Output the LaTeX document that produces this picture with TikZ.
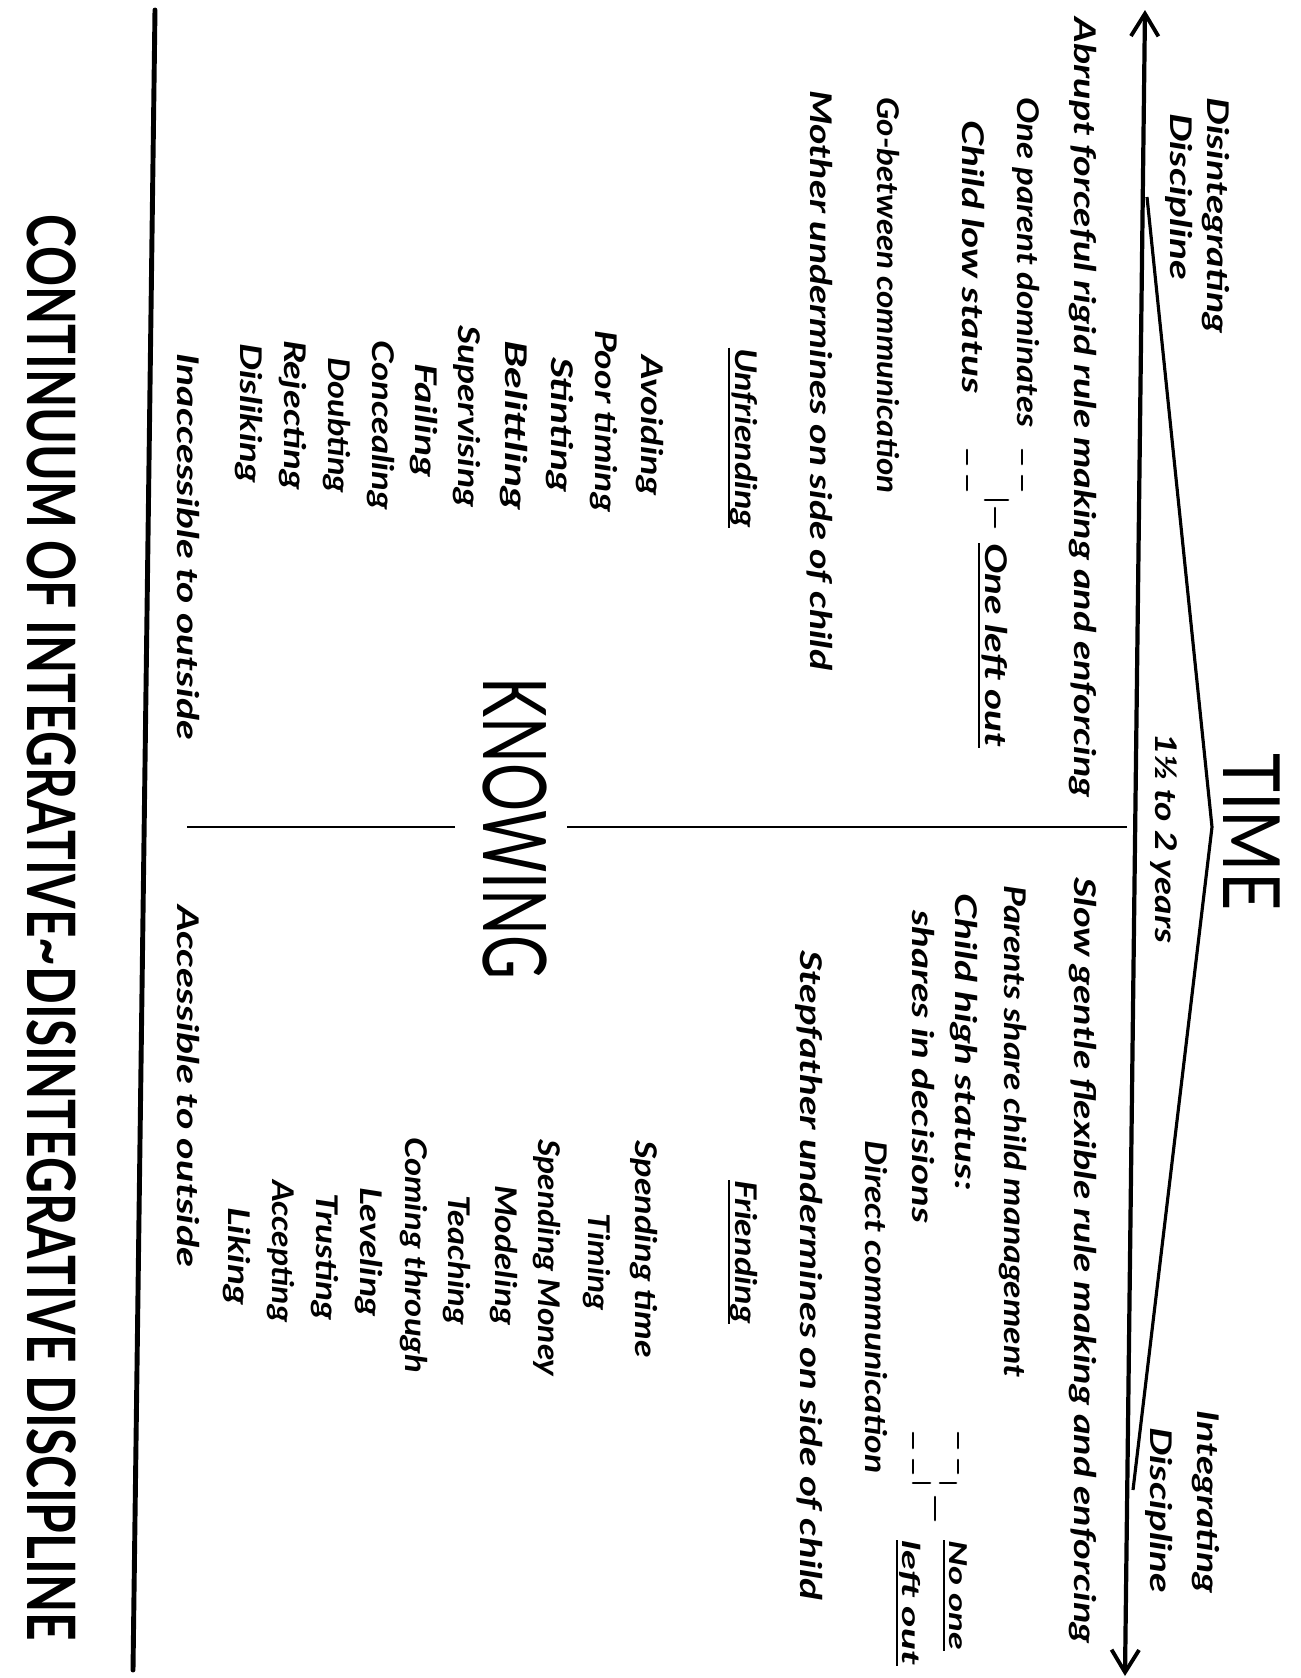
\documentclass[tikz,border=0pt]{standalone}
\usepackage{fontspec}
\setmainfont{Lato}
\usetikzlibrary{arrows.meta}
\newlength\upx
\setlength\upx{0.02cm}
\newcommand{\fitw}[2]{\resizebox{#1\upx}{\height}{#2}}
\newcommand{\handsize}{\fontsize{17}{20}\selectfont\bfseries\itshape}
\newcommand{\smallhand}{\fontsize{14}{16}\selectfont\bfseries\itshape}
\tikzset{
  hand/.style={rotate=-90, anchor=base west, inner sep=0pt, font=\handsize},
  handc/.style={hand, anchor=base},
  handsm/.style={hand, font=\smallhand},
  bigword/.style={rotate=-90, anchor=base west, inner sep=0pt},
  uline/.style={line width=1.2pt},
  thickline/.style={line width=2.4pt, line cap=round},
  wedge/.style={line width=1.8pt, line join=round},
  sepline/.style={line width=1.1pt},
  dashmark/.style={line width=1.5pt, line cap=round},
  barb/.tip={Straight Barb[length=4.5mm,width=5.5mm,line width=2.2pt]}
}
\begin{document}
\begin{tikzpicture}[x=0.02cm, y=-0.02cm]
\fill[white] (0,0) rectangle (1301,1678);
\useasboundingbox (0,0) rectangle (1301,1678);

% main double arrow
\coordinate (aTop) at (1145,10);
\coordinate (aBot) at (1125,1676);
\draw[thickline, barb-barb] (aBot) -- (aTop);

% wedge
\coordinate (wA) at (1147,197);
\coordinate (wApex) at (1212,827);
\coordinate (wB) at (1133,1490);
\draw[wedge] (wA) -- (wApex) -- (wB);

% bottom line
\coordinate (bTop) at (155,10);
\coordinate (bBot) at (133,1670);
\draw[thickline, line width=2.8pt] (bTop) -- (bBot);

% separators
\coordinate (s1a) at (1127,827);
\coordinate (s1b) at (567,827);
\coordinate (s2a) at (455,827);
\coordinate (s2b) at (187,827);
\draw[sepline] (s1a) -- (s1b);
\draw[sepline] (s2a) -- (s2b);

% big words
\node[bigword, font=\fontsize{45}{50}\selectfont] (time) at (1223,753) {\fitw{157}{TIME}};
\node[bigword, font=\fontsize{50}{56}\selectfont] (knowing) at (483,677) {\fitw{302}{KNOWING}};
\node[bigword, font=\fontsize{38}{40}\selectfont\bfseries] (title) at (27,214) {\fitw{1426}{CONTINUUM OF INTEGRATIVE\textasciitilde DISINTEGRATIVE DISCIPLINE}};

\node[hand] (years) at (1155,733) {\fitw{210}{1½ to 2 years}};

% upper (disintegrative) side
\node[hand] (disint) at (1207,97) {\fitw{236}{Disintegrating}};
\node[hand] (discA) at (1170,113) {\fitw{167}{Discipline}};
\node[hand] (abrupt) at (1074,17) {\fitw{780}{Abrupt forceful rigid rule making and enforcing}};
\node[hand] (onepar) at (1017,97) {\fitw{330}{One parent dominates}};
\node[hand] (childlow) at (962,120) {\fitw{273}{Child low status}};
\node[hand] (oneleft) at (985,543) {\fitw{204}{One left out\vphantom{g}}};
\draw[uline] (oneleft.south west) -- (oneleft.south east);
\node[hand] (gobetween) at (877,97) {\fitw{396}{Go-between communication}};
\node[hand] (mother) at (810,90) {\fitw{580}{Mother undermines on side of child}};

% left bracket
\draw[dashmark] (1022,450) -- (1022,464) (1022,476) -- (1022,490);
\draw[dashmark] (967,450) -- (967,464) (967,476) -- (967,490);
\draw[dashmark] (985,500) -- (1008,500);
\draw[dashmark] (995,508) -- (995,527);

% unfriending list
\node[handc] (unfr) at (735,438) {\fitw{180}{Unfriending\vphantom{g}}};
\draw[uline] (unfr.south west) -- (unfr.south east);
\node[handc] (u1) at (641,425) {\fitw{140}{Avoiding}};
\node[handc] (u2) at (595,421) {\fitw{182}{Poor timing}};
\node[handc] (u3) at (551,425) {\fitw{135}{Stinting}};
\node[handc] (u4) at (505,425) {\fitw{170}{Belittling}};
\node[handc] (u5) at (458,416) {\fitw{182}{Supervising}};
\node[handc] (u6) at (415,420) {\fitw{114}{Failing}};
\node[handc] (u7) at (372,425) {\fitw{170}{Concealing}};
\node[handc] (u8) at (328,425) {\fitw{136}{Doubting}};
\node[handc] (u9) at (284,415) {\fitw{150}{Rejecting}};
\node[handc] (u10) at (240,413) {\fitw{140}{Disliking}};
\node[hand] (inacc) at (177,353) {\fitw{387}{Inaccessible to outside}};

% lower (integrative) side
\node[hand] (integ) at (1197,1410) {\fitw{183}{Integrating}};
\node[hand] (discB) at (1150,1427) {\fitw{166}{Discipline}};
\node[hand] (slow) at (1074,877) {\fitw{766}{Slow gentle flexible rule making and enforcing}};
\node[hand] (parents) at (1004,885) {\fitw{492}{Parents share child management}};
\node[hand] (childhigh) at (955,893) {\fitw{297}{Child high status:}};
\node[hand] (shares) at (912,910) {\fitw{313}{shares in decisions}};
\node[hand] (direct) at (865,1140) {\fitw{333}{Direct communication}};
\node[hand] (step) at (800,950) {\fitw{650}{Stepfather undermines on side of child}};

% right bracket
\draw[dashmark] (958,1433) -- (958,1448) (958,1460) -- (958,1473);
\draw[dashmark] (913,1433) -- (913,1448) (913,1460) -- (913,1473);
\draw[dashmark] (913,1483) -- (930,1483) (940,1483) -- (956,1483);
\draw[dashmark] (935,1497) -- (935,1520);
\node[handsm] (noone) at (949,1540) {\fitw{110}{No one\vphantom{g}}};
\draw[uline] (noone.south west) -- (noone.south east);
\node[handsm] (leftout) at (902,1540) {\fitw{125}{left out\vphantom{g}}};
\draw[uline] (leftout.south west) -- (leftout.south east);

% friending list
\node[handc] (fr) at (735,1252) {\fitw{143}{Friending\vphantom{g}}};
\draw[uline] (fr.south west) -- (fr.south east);
\node[handc] (f1) at (635,1249) {\fitw{218}{Spending time}};
\node[handc] (f2) at (588,1262) {\fitw{97}{Timing}};
\node[handc] (f3) at (538,1258) {\fitw{237}{Spending Money}};
\node[handc] (f4) at (495,1255) {\fitw{140}{Modeling}};
\node[handc] (f5) at (448,1260) {\fitw{130}{Teaching}};
\node[handc] (f6) at (405,1255) {\fitw{236}{Coming through}};
\node[handc] (f7) at (360,1252) {\fitw{129}{Leveling}};
\node[handc] (f8) at (316,1257) {\fitw{127}{Trusting}};
\node[handc] (f9) at (272,1251) {\fitw{142}{Accepting}};
\node[handc] (f10) at (228,1256) {\fitw{98}{Liking}};
\node[hand] (acc) at (177,905) {\fitw{362}{Accessible to outside}};
\end{tikzpicture}
\end{document}
